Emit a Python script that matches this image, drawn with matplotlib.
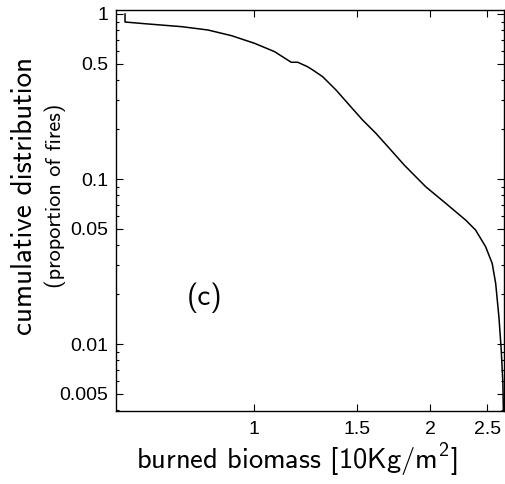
import matplotlib.pyplot as plt
from matplotlib.ticker import FixedLocator, NullLocator, NullFormatter

plt.rcParams["font.family"] = ["Liberation Sans", "DejaVu Sans"]
plt.rcParams["mathtext.default"] = "regular"
plt.rcParams["axes.unicode_minus"] = False

# cumulative distribution of burned biomass
biomass = [0.604, 0.604, 0.661, 0.754, 0.836, 0.917, 1.004, 1.086, 1.159,
           1.189, 1.236, 1.261, 1.311, 1.382, 1.455, 1.533, 1.616, 1.713,
           1.805, 1.964, 2.125, 2.297, 2.388, 2.484, 2.549, 2.584, 2.617,
           2.641, 2.658, 2.663]
cum_prop = [1.0, 0.894, 0.870, 0.838, 0.800, 0.739, 0.664, 0.591, 0.510,
            0.510, 0.479, 0.458, 0.417, 0.346, 0.281, 0.228, 0.189, 0.150,
            0.1216, 0.0898, 0.0712, 0.0564, 0.0491, 0.0389, 0.0308, 0.0233,
            0.0146, 0.0092, 0.0058, 0.00393]

xticks = [1, 1.5, 2, 2.5]
xtick_labels = ["1", "1.5", "2", "2.5"]
yticks = [0.005, 0.01, 0.05, 0.1, 0.5, 1]
ytick_labels = ["0.005", "0.01", "0.05", "0.1", "0.5", "1"]
yminor = [m * d for d in (0.001, 0.01, 0.1) for m in (2, 3, 4, 6, 7, 8, 9)]

fig = plt.figure(figsize=(5.05, 4.84), dpi=100)
ax = fig.add_axes([0.2297, 0.1508, 0.768, 0.8285])

ax.plot(biomass, cum_prop, color="black", lw=1.1)

ax.set_xscale("log")
ax.set_yscale("log")
ax.set_xlim(0.583, 2.668)
ax.set_ylim(0.00393, 1.057)

ax.xaxis.set_major_locator(FixedLocator(xticks))
ax.set_xticklabels(xtick_labels)
ax.xaxis.set_minor_locator(NullLocator())
ax.xaxis.set_minor_formatter(NullFormatter())
ax.yaxis.set_major_locator(FixedLocator(yticks))
ax.set_yticklabels(ytick_labels)
ax.yaxis.set_minor_locator(FixedLocator(yminor))
ax.yaxis.set_minor_formatter(NullFormatter())

ax.tick_params(which="both", direction="in", top=True, right=True,
               labelsize=14, width=0.8)
ax.tick_params(which="major", length=5)
ax.tick_params(axis="y", which="major", pad=5.5)
ax.tick_params(axis="x", which="major", pad=7)
ax.tick_params(which="minor", length=2.5)
for s in ax.spines.values():
    s.set_linewidth(1.0)

cm = dict(family="cmss10")
fig.text(297 / 505, 1 - 460 / 484, "burned biomass [10Kg/m$^2$]",
         fontsize=20.5, ha="center", va="center", **cm)
fig.text(25 / 505, 0.596, "cumulative distribution", fontsize=21,
         rotation=90, ha="center", va="center", **cm)
fig.text(55 / 505, 0.596, "(proportion of fires)", fontsize=16,
         rotation=90, ha="center", va="center", **cm)
ax.text(0.229, 0.282, "(c)", fontsize=21, ha="center", va="center",
        transform=ax.transAxes, **cm)

fig.savefig("out.png", dpi=100)
